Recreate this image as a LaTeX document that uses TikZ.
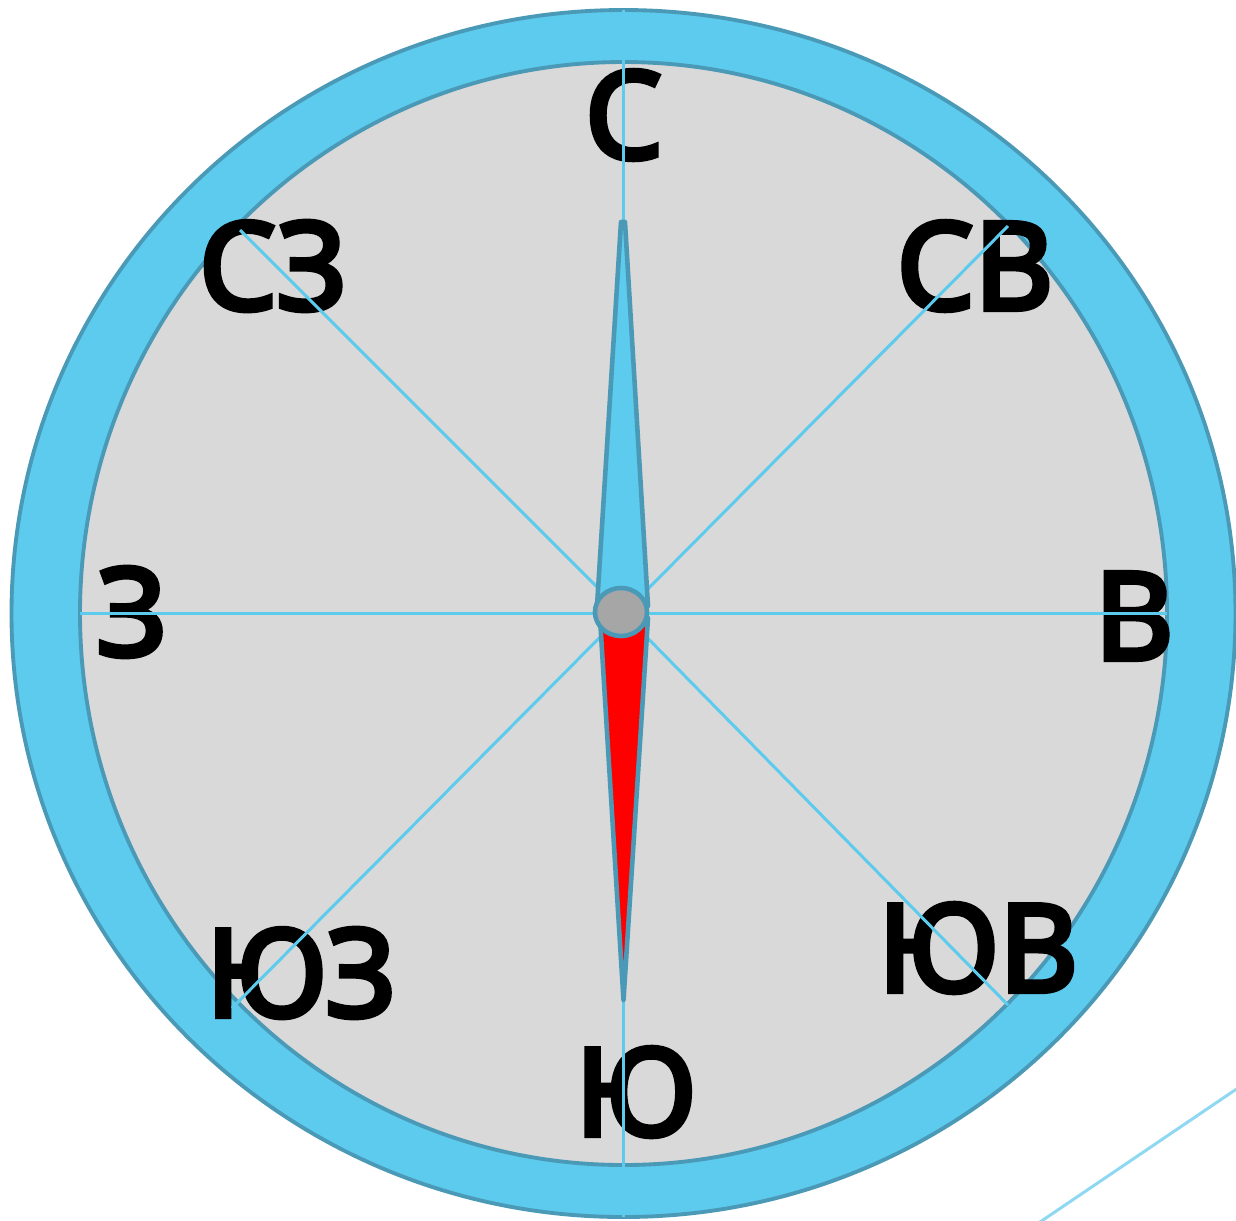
\documentclass[tikz,border=0pt]{standalone}
\usepackage{fontspec}
\setmainfont{Noto Sans}
\newfontfamily\dialfont{Noto Sans}[FakeBold=4.5]
\usetikzlibrary{shapes.geometric}
\definecolor{ringblue}{HTML}{5DCBEE}
\definecolor{rimteal}{HTML}{4A9AB7}
\definecolor{facegray}{HTML}{D9D9D9}
\definecolor{hubgray}{HTML}{A6A6A6}
\definecolor{strayblue}{HTML}{8ED8F2}
\tikzset{
  rim/.style={draw=rimteal,line width=1.1pt},
  ray/.style={draw=ringblue,line width=0.85pt},
  point/.style={font=\dialfont\fontsize{34.5}{40}\selectfont,inner sep=0pt},
  needle/.style={draw=rimteal,line width=1.3pt,line join=round}
}
\begin{document}
\begin{tikzpicture}[x=0.01cm,y=-0.01cm]
\useasboundingbox (0,0) rectangle (1236,1220);
% dial
\coordinate (c) at (623.5,613.5);
\fill[ringblue,rim] (c) ellipse [x radius=612,y radius=603.5];
\fill[facegray,rim] (c) ellipse [x radius=543.5,y radius=551.5];
% compass points
\node[point] (n) at (624,115) {С};
\node[point] (nw) at (273,266) {СЗ};
\node[point] (ne) at (975,266) {СВ};
\node[point] (w) at (132,612) {З};
\node[point] (e) at (1134,616) {В};
\node[point] (sw) at (301,973) {ЮЗ};
\node[point] (se) at (978,948) {ЮВ};
\node[point] (s) at (636,1092) {Ю};
% rays
\coordinate (top) at (623.5,10);
\coordinate (bot) at (623.5,1217);
\coordinate (left) at (80,613.5);
\coordinate (right) at (1167,613.5);
\coordinate (rnw) at (240,230);
\coordinate (rne) at (1008,226);
\coordinate (rsw) at (232,1008);
\coordinate (rse) at (1008,1005);
\draw[ray] (top) -- (bot);
\draw[ray] (left) -- (right);
\foreach \p in {rnw,rne,rsw,rse}
  \draw[ray] (c) -- (\p);
% needle
\filldraw[fill=ringblue,needle] (621,222) -- (625,222) -- (648,606) -- (597,606) -- cycle;
\filldraw[fill=red,needle] (600,618) -- (648,618) -- (623.5,1000) -- cycle;
\node[ellipse,fill=hubgray,needle,minimum width=0.52cm,minimum height=0.48cm,inner sep=0pt] (hub) at (621,612) {};
% stray line
\draw[strayblue,line width=0.85pt] (1040,1222) -- (1238,1088);
\end{tikzpicture}
\end{document}
